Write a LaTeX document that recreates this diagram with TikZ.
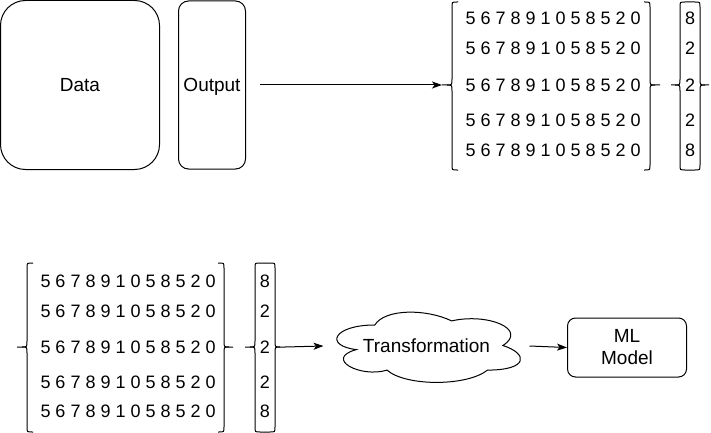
\documentclass[tikz,border=0pt]{standalone}
\usepackage{fontspec}
\setmainfont{Liberation Sans}
\usetikzlibrary{arrows.meta}
% left curly bracket: #1 x of vertical, #2 top, #3 bottom, #4 mid, #5 hook length, #6 tip length
\newcommand\myBracL[6]{%
  \draw (#1+#5,#2) -- (#1+5,#2) .. controls (#1,#2) .. (#1,#2+5) -- (#1,#4-6)
        .. controls (#1,#4) .. (#1-5,#4) -- (#1-#6,#4);
  \draw (#1-5,#4) .. controls (#1,#4) .. (#1,#4+6) -- (#1,#3-5)
        .. controls (#1,#3) .. (#1+5,#3) -- (#1+#5,#3);}
\newcommand\myBracR[6]{%
  \draw (#1-#5,#2) -- (#1-5,#2) .. controls (#1,#2) .. (#1,#2+5) -- (#1,#4-6)
        .. controls (#1,#4) .. (#1+5,#4) -- (#1+#6,#4);
  \draw (#1+5,#4) .. controls (#1,#4) .. (#1,#4+6) -- (#1,#3-5)
        .. controls (#1,#3) .. (#1-5,#3) -- (#1-#5,#3);}
\begin{document}
\begin{tikzpicture}[x=1pt,y=-1pt,line width=1pt,
  rbox/.style={draw,rounded corners=#1,inner sep=0pt,align=center},
  lab/.style={font=\fontsize{19}{22}\selectfont},
  num/.style={font=\fontsize{18}{20}\selectfont,inner sep=0pt,anchor=west},
  vnum/.style={font=\fontsize{18}{20}\selectfont,inner sep=0pt},
  arr/.style={-{Stealth[length=10pt,width=7pt,inset=2.5pt]}}]
\useasboundingbox (0,0) rectangle (711,433);

% top row
\node[rbox=25pt,lab,minimum width=159pt,minimum height=169pt,text depth=0pt] (data) at (80,85) {Data};
\node[rbox=10pt,lab,minimum width=67pt,minimum height=168pt,text depth=0pt] (out) at (212,85) {Output};

% top matrix
\node[num] (t1) at (465,18) {5 6 7 8 9 1 0 5 8 5 2 0};
\node[num] (t2) at (465,48) {5 6 7 8 9 1 0 5 8 5 2 0};
\node[num] (t3) at (465,85) {5 6 7 8 9 1 0 5 8 5 2 0};
\node[num] (t4) at (465,120) {5 6 7 8 9 1 0 5 8 5 2 0};
\node[num] (t5) at (465,150) {5 6 7 8 9 1 0 5 8 5 2 0};
\myBracL{452}{2}{170}{85}{6}{10}
\myBracR{650}{2}{170}{85}{6}{10}
\coordinate (tml) at (442,85);

% top vector
\node[vnum] (tv1) at (690,18) {8};
\node[vnum] (tv2) at (690,48) {2};
\node[vnum] (tv3) at (690,85) {2};
\node[vnum] (tv4) at (690,120) {2};
\node[vnum] (tv5) at (690,150) {8};
\myBracL{680}{2}{170}{85}{10}{9}
\myBracR{700}{2}{170}{85}{10}{9}

\draw[arr] (out.east) ++(14,0) coordinate (os) -- (tml);

% bottom matrix
\node[num] (b1) at (40,281) {5 6 7 8 9 1 0 5 8 5 2 0};
\node[num] (b2) at (40,311) {5 6 7 8 9 1 0 5 8 5 2 0};
\node[num] (b3) at (40,347) {5 6 7 8 9 1 0 5 8 5 2 0};
\node[num] (b4) at (40,382) {5 6 7 8 9 1 0 5 8 5 2 0};
\node[num] (b5) at (40,411) {5 6 7 8 9 1 0 5 8 5 2 0};
\myBracL{27}{263}{432}{347}{6}{10}
\myBracR{224}{263}{432}{347}{6}{9}

% bottom vector
\node[vnum] (bv1) at (265,281) {8};
\node[vnum] (bv2) at (265,311) {2};
\node[vnum] (bv3) at (265,347) {2};
\node[vnum] (bv4) at (265,382) {2};
\node[vnum] (bv5) at (265,411) {8};
\myBracL{255}{263}{432}{347}{10}{10}
\myBracR{275}{263}{432}{347}{10}{10}
\coordinate (bvr) at (285,347);

% cloud and model
\node[inner sep=0pt,minimum width=205pt,minimum height=82pt,lab,text depth=0pt] (cl) at (426.5,346) {Transformation};
\draw[shift={(cl.north west)},xscale=205,yscale=82]
  (0.25,0.25) .. controls (0.05,0.25) and (0,0.5) .. (0.16,0.55)
  .. controls (0,0.66) and (0.18,0.9) .. (0.31,0.8)
  .. controls (0.4,1) and (0.7,1) .. (0.8,0.8)
  .. controls (1,0.8) and (1,0.6) .. (0.875,0.5)
  .. controls (1,0.3) and (0.8,0.1) .. (0.625,0.2)
  .. controls (0.5,0.05) and (0.3,0.05) .. (0.25,0.25) -- cycle;
\node[rbox=8pt,lab,minimum width=119pt,minimum height=59pt] (ml) at (627,347.5) {ML\\Model};

\draw[arr] (bvr) -- (cl.west);
\draw[arr] (cl.east) -- (ml.west);
\end{tikzpicture}
\end{document}
